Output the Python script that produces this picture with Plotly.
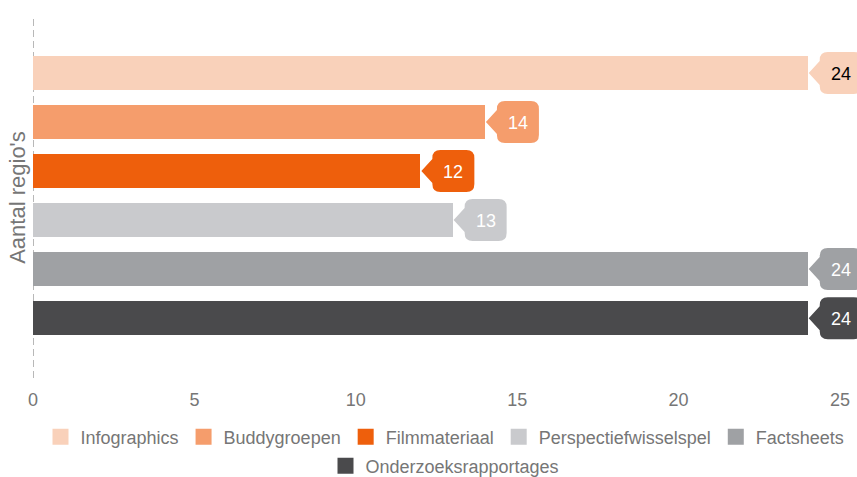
import plotly.graph_objects as go

series = ["Infographics", "Buddygroepen", "Filmmateriaal", "Perspectiefwisselspel", "Factsheets", "Onderzoeksrapportages"]
values = [24, 14, 12, 13, 24, 24]
colors = ["#F9D1BA", "#F59D6C", "#EE5F0C", "#C9CACD", "#9FA1A4", "#4A4A4C"]
label_colors = ["#000000", "#FFFFFF", "#FFFFFF", "#FFFFFF", "#FFFFFF", "#FFFFFF"]
legend_rows = ["legend", "legend", "legend", "legend", "legend", "legend2"]
x_ticks = [0, 5, 10, 15, 20, 25]
y_title = "Aantal regio's"

FONT = "Liberation Sans, Arial, sans-serif"
TXT = "#767676"
fig = go.Figure()
for i, (name, v, c) in enumerate(zip(series, values, colors)):
    fig.add_trace(go.Bar(
        x=[v], y=[i], name=name, orientation="h",
        marker=dict(color=c, line=dict(width=0)), width=0.69,
        hoverinfo="skip", showlegend=False,
    ))
# legend entries with larger square symbols
for name, c, lg in zip(series, colors, legend_rows):
    fig.add_trace(go.Scatter(
        x=[None], y=[None], mode="markers", name=name, legend=lg,
        marker=dict(symbol="square", size=16, color=c), showlegend=True,
    ))

# callout shape (pixel path relative to bar end)
r = 8
L, R, T, B = 12, 54, 21, -21
path = (f"M 1 0 L {L} 12 L {L} {T-r} Q {L} {T} {L+r} {T} L {R-r} {T} Q {R} {T} {R} {T-r} "
        f"L {R} {B+r} Q {R} {B} {R-r} {B} L {L+r} {B} Q {L} {B} {L} {B+r} L {L} -12 Z")
shapes = []
annotations = []
for i, (v, c, tc) in enumerate(zip(values, colors, label_colors)):
    shapes.append(dict(type="path", xref="x", yref="y", xsizemode="pixel", ysizemode="pixel",
                       xanchor=v, yanchor=i, path=path, fillcolor=c, line=dict(width=0), layer="above"))
    annotations.append(dict(x=v, y=i, xref="x", yref="y", text=str(v), showarrow=False,
                            xanchor="center", yanchor="middle", xshift=(L + R) / 2, yshift=-1,
                            font=dict(family=FONT, size=18, color=tc)))

shapes.append(dict(type="line", xref="x", yref="paper", x0=0, x1=0, y0=0, y1=1,
                   line=dict(color="#B8B8B8", width=2, dash="7px,4px"), layer="below"))

legend_common = dict(orientation="h", x=0.5, xanchor="center", yref="container", yanchor="middle",
                     font=dict(size=18, color=TXT), itemclick=False, itemdoubleclick=False,
                     tracegroupgap=0, itemwidth=30, bgcolor="rgba(0,0,0,0)")

fig.update_layout(
    width=857, height=477,
    margin=dict(l=33, r=0, t=17, b=99),
    paper_bgcolor="white", plot_bgcolor="white",
    font=dict(family=FONT, color=TXT, size=18),
    showlegend=True,
    legend=dict(y=(477 - 437) / 477, **legend_common),
    legend2=dict(y=(477 - 466) / 477, **legend_common),
    xaxis=dict(range=[0, 25 * (857 - 33) / 807], tickvals=x_ticks, showgrid=False, zeroline=False,
               showline=False, ticks="", ticklabelstandoff=9, tickfont=dict(size=18, color=TXT)),
    yaxis=dict(range=[6.22, -1.14], showticklabels=False, showgrid=False, zeroline=False,
               showline=False, ticks="", title=dict(text=y_title, font=dict(size=22, color=TXT), standoff=0)),
    shapes=shapes, annotations=annotations,
    bargap=0,
)
fig.write_html("out.html")
